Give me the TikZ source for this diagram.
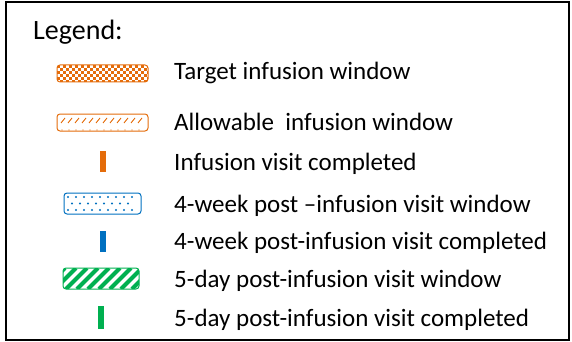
\documentclass[tikz,border=0pt]{standalone}
\usepackage{fontspec}
\setmainfont{Carlito}
\usepackage{tikz}
\usepackage{xcolor}
\usetikzlibrary{positioning}
\definecolor{infOrange}{HTML}{E46C0A}
\definecolor{visBlue}{HTML}{0070C0}
\definecolor{visGreen}{HTML}{00B050}

\begin{document}
\begin{tikzpicture}[x=1pt,y=1pt]
\tikzstyle{every node}+=[inner sep=0pt]
\tikzstyle{item}=[anchor=base west,font=\fontsize{25}{30}\selectfont]
\tikzstyle{bar}=[minimum width=6pt,minimum height=21pt]
\tikzstyle{winbox}=[line width=1pt,rounded corners=3pt]
\useasboundingbox (0,0) rectangle (572,-342);
\draw [black,line width=2pt] (6,-2) rectangle (569,-340);
\draw (33,-40) node [item,font=\fontsize{28}{34}\selectfont] (legend) {Legend:};
% target infusion window
\begin{scope}
\clip [rounded corners=3pt] (57,-65) rectangle (148,-82);
\foreach \i in {0,...,30}
  \foreach \j in {0,...,5} {
    \pgfmathtruncatemacro\k{mod(\i+\j,2)}
    \ifnum\k=0 \fill [infOrange] (57+3*\i,-65-3*\j) rectangle ++(3,-3); \fi
  }
\end{scope}
\draw [infOrange,winbox] (57,-65) rectangle (148,-82);
\draw (174,-80) node [item] (target) {Target infusion window};
% allowable infusion window
\foreach \x in {61,68,...,141} {
  \draw [infOrange,line width=0.9pt] (\x,-123) -- (\x+4,-118);
  \fill [infOrange] (\x+1,-130) circle (0.7);
}
\draw [infOrange,winbox] (57,-114) rectangle (148,-131);
\draw (174,-130) node [item] (allowable) {Allowable\ \ infusion window};
% infusion visit
\node [bar,fill=infOrange] (infBar) at (103,-161.5) {};
\draw (174,-170) node [item] (infDone) {Infusion visit completed};
% 4-week window
\foreach \i in {0,...,8} {
  \fill [visBlue] (68+8*\i,-197) circle (1.1);
  \fill [visBlue] (68+8*\i,-210) circle (1.1);
}
\foreach \i in {0,...,7}
  \fill [visBlue] (72+8*\i,-203.5) circle (1.1);
\draw [visBlue,winbox] (64,-193) rectangle (141,-214);
\draw (174,-212) node [item] (weekWin) {4-week post –infusion visit window};
% 4-week visit
\node [bar,fill=visBlue] (weekBar) at (103,-241) {};
\draw (174,-249) node [item] (weekDone) {4-week post-infusion visit completed};
% 5-day window
\begin{scope}
\clip [rounded corners=3pt] (63,-268) rectangle (139,-289);
\foreach \x in {44,55,...,140}
  \draw [visGreen,line width=4pt] (\x,-289) -- (\x+21,-268);
\end{scope}
\draw [visGreen,winbox] (63,-268) rectangle (139,-289);
\draw (174,-287) node [item] (dayWin) {5-day post-infusion visit window};
% 5-day visit
\node [bar,fill=visGreen,minimum height=23pt] (dayBar) at (101,-317.5) {};
\draw (174,-326) node [item] (dayDone) {5-day post-infusion visit completed};
\end{tikzpicture}
\end{document}
